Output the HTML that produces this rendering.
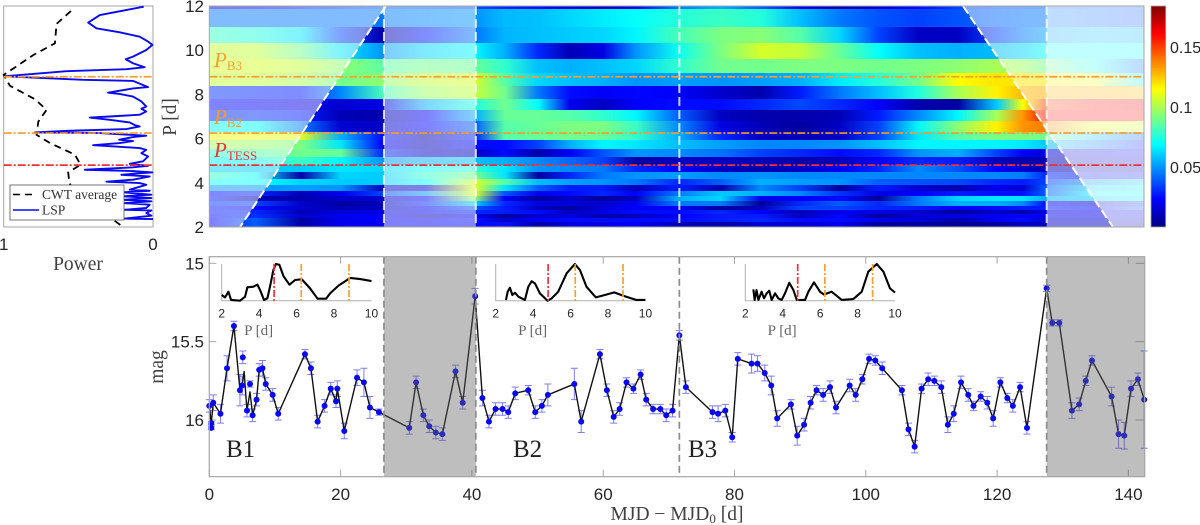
<!DOCTYPE html>
<html lang="en">
<head>
<meta charset="utf-8">
<title>CWT and light curve</title>
<style>
html,body{margin:0;padding:0;background:#fff;width:1200px;height:525px;overflow:hidden}
svg{display:block;filter:blur(.3px)}
.tick{font-family:"Liberation Sans",sans-serif;font-size:17px;fill:#262626}
.itick{font-family:"Liberation Sans",sans-serif;font-size:12px;fill:#262626}
.lab{font-family:"Liberation Serif",serif;font-size:19.5px;fill:#404040}
.ilab{font-family:"Liberation Serif",serif;font-size:15px;fill:#666}
.leg{font-family:"Liberation Serif",serif;font-size:13.5px;fill:#333}
.blk{font-family:"Liberation Serif",serif;font-size:25px;fill:#222}
.ann{font-family:"Liberation Serif",serif;font-size:21px;font-style:italic}
.sub{font-size:13px;font-style:normal}
</style>
</head>
<body>
<svg id="fig" xmlns="http://www.w3.org/2000/svg" width="1200" height="525" viewBox="0 0 1200 525">
  <defs id="defs"></defs>
  <g id="leftPanel"></g>
  <g id="heatPanel"></g>
  <g id="cbarPanel"></g>
  <g id="lcPanel"></g>

  <text class="lab" x="78" y="270" text-anchor="middle">Power</text>
  <text class="lab" transform="translate(176,117) rotate(-90)" text-anchor="middle">P [d]</text>
  <text class="lab" transform="translate(163,367) rotate(-90)" text-anchor="middle">mag</text>
  <text class="lab" x="677" y="520" text-anchor="middle">MJD − MJD<tspan font-size="13" dy="3">0</tspan><tspan dy="-3"> [d]</tspan></text>

  <text class="blk" x="226" y="457">B1</text>
  <text class="blk" x="513" y="457">B2</text>
  <text class="blk" x="688" y="457">B3</text>
</svg>
<script>
// ---------- heatmap data ----------
const heatTimes = [0,7,14,20,26.5,33,40.5,45,50,55,60,65,71.5,78,84,90,96,102,108,114,120,124,127.5,135,142.5];
const heatPeriodEdges = [12,11.86,11.05,10.33,9.6,8.97,8.38,7.79,7.29,6.8,6.3,5.94,5.53,5.17,4.81,4.49,4.17,3.9,3.63,3.4,3.18,2.95,2.77,2.59,2.41,2.23,2];
// wavelet power per row (top to bottom), in units of 0.001
const heatValues = [
[15,20,30,35,40,40,38,30,25,18,12,20,46,55,40,20,10,15,25,35,40,40,40,40,40],
[45,45,45,45,45,48,50,57,58,62,66,70,76,80,76,58,45,38,35,38,42,44,45,42,38],
[80,76,65,35,8,28,45,56,58,60,62,68,82,92,94,85,62,35,12,12,35,45,52,58,55],
[105,105,90,65,50,62,68,55,30,10,18,50,72,92,108,105,88,70,58,55,57,62,68,70,70],
[108,108,105,95,86,90,88,78,58,55,58,62,78,90,90,92,92,90,92,95,100,98,90,72,42],
[105,105,100,90,95,105,108,85,62,58,55,50,52,50,52,55,66,76,90,116,120,120,120,112,65],
[32,30,28,48,82,98,105,90,45,25,22,24,22,14,8,28,45,58,75,100,118,128,130,130,128],
[25,22,18,15,18,55,75,90,70,20,12,22,25,25,30,36,30,22,8,6,60,115,150,160,165],
[30,32,28,10,8,22,55,88,88,85,78,68,40,12,8,8,10,28,48,68,100,135,160,160,160],
[72,70,45,15,12,24,40,85,88,92,92,80,48,18,10,6,12,35,68,95,118,135,140,112,108],
[112,112,110,55,25,8,30,85,88,90,88,78,55,30,12,10,12,35,65,85,92,92,90,58,38],
[100,98,92,65,22,10,25,25,35,55,68,65,58,52,48,48,50,58,68,68,68,66,60,45,28],
[78,85,90,88,30,12,12,25,8,22,38,50,48,44,35,30,25,30,50,55,35,22,16,18,20],
[68,72,80,68,50,55,58,55,48,42,35,6,12,12,10,8,10,22,30,28,10,8,9,12,14],
[62,60,60,65,62,72,78,65,50,48,45,30,22,12,8,12,20,30,48,38,22,14,9,10,12],
[80,70,8,62,60,78,90,65,6,30,45,50,52,48,50,48,48,48,48,48,48,46,30,25,28],
[72,70,62,60,60,70,108,85,58,52,50,45,30,40,55,52,50,40,38,36,30,28,35,50,60],
[50,50,52,50,12,14,110,65,40,28,28,10,28,8,48,35,5,28,15,8,20,15,40,62,66],
[26,30,10,20,35,50,108,38,20,25,30,22,45,60,55,48,32,18,22,28,25,26,40,68,70],
[28,10,8,14,14,25,95,22,5,14,5,12,55,62,20,22,25,5,45,62,65,65,55,60,65],
[32,35,14,6,10,30,60,30,18,16,14,22,45,45,4,30,40,30,45,55,55,48,25,15,35],
[28,25,14,10,12,20,38,28,12,6,16,22,22,6,12,35,35,30,28,22,25,28,28,25,40],
[28,30,10,16,18,20,30,28,25,12,18,25,25,30,22,10,20,18,14,5,14,8,18,20,20],
[25,32,14,20,22,10,22,6,14,18,8,12,22,28,28,12,24,5,16,18,20,22,20,20,20],
[22,40,6,20,22,22,26,14,22,25,25,25,25,28,30,25,25,20,16,8,22,25,14,14,14],
[22,40,8,20,20,22,24,26,6,18,18,22,10,8,15,15,20,4,6,4,5,12,12,12,12]
];
const colorbarTicks = [0.05,0.1,0.15];
const periodTicks = [2,4,6,8,10,12];
const refPeriods = [8.8,6.25,4.8];
const refPeriodNames = ['p-b3','p-b2','p-tess'];
const refPeriodColors = ['#f7a02e','#f59b2c','#e8323c'];
const blockEdges = [26.6,40.6,71.6,127.55];
const coiLeftEdge = [[26.9,12],[4.7,2]];
const coiRightEdge = [[114.8,12],[137.65,2]];

// ---------- left panel data ----------
const lspPeriods = [11.97,11.59,11.25,10.99,10.81,10.61,10.39,10.24,10.01,9.71,9.59,9.41,9.23,9.14,9.05,8.82,8.66,8.61,8.33,8.27,8.08,8.02,7.9,7.68,7.45,7.35,7.23,7.08,7,6.95,6.85,6.73,6.61,6.55,6.43,6.35,6.28,6.25,6.13,6.07,5.95,5.89,5.8,5.7,5.64,5.57,5.49,5.34,5.19,4.97,4.86,4.77,4.7,4.59,4.53,4.47,4.41,4.36,4.29,4.14,4.05,3.99,3.91,3.69,3.64,3.57,3.46,3.39,3.31,3.23,3.16,3.08,3.01,2.86,2.78,2.75,2.63,2.51,2.38,2.36];
const lspPower = [.062,.356,.434,.379,.223,.089,.033,.004,.045,.134,.183,.134,.056,.178,.579,.998,.468,.134,.033,.134,.301,.223,.134,.078,.045,.078,.045,.089,.29,.423,.29,.156,.122,.089,.178,.579,.791,.356,.045,.134,.227,.134,.223,.401,.245,.089,.045,.078,.033,.067,.156,.033,.134,.457,.134,.004,.134,.212,.022,.134,.312,.089,.045,.156,.022,.2,.011,.2,.011,.2,.011,.189,.022,.045,.189,.011,.045,.011,.189,0];
const cwtPeriods = [11.77,11.19,10.31,9.79,8.88,8.39,7.78,7.3,6.77,6.17,5.8,5.27,4.82,4.47,3.99,3.2,2.33,2];
const cwtPower = [.55,.646,.657,.8,1,.958,.79,.713,.768,.78,.69,.523,.485,.568,.56,.49,.267,.2];
const powerTicks = [1,0];

// ---------- light curve data ----------
const lcTimes = [0,.3,.6,1.7,2.7,3.75,4.67,5,5.3,5.74,6.2,6.6,7.2,7.6,8.1,8.6,9.65,10.5,14.57,15.48,16.5,17.56,18.5,19.3,19.5,20.56,22.5,23.55,24.47,25.84,30.46,31.5,32.6,33.5,34.5,35.5,37.5,38.6,40.5,41.6,42.6,43.6,44.67,45.53,46.6,48.58,49.65,50.66,51.57,55.6,56.65,59.5,60.56,61.6,62.5,63.55,64.6,65.7,66.55,67.6,68.7,69.6,70.56,71.6,72.6,76.65,77.5,78.6,79.65,80.5,82.6,83.5,84.6,85.6,86.5,88.6,89.55,90.6,91.6,92.5,93.5,94.55,95.46,97.54,98.46,99.47,100.5,101.45,102.5,105.5,106.5,107.44,108.5,109.5,110.44,111.5,112.5,113.4,114.5,115.6,116.4,117.5,118.5,119.4,120.5,121.55,122.4,123.5,124.55,127.55,128.4,129.47,131.4,132.5,133.5,134.45,137.44,138.5,139.37,140.4,141.45,142.4];
const lcMags = [15.91,16.02,15.89,15.96,15.67,15.4,15.81,15.78,15.69,15.94,15.82,15.97,15.87,15.68,15.67,15.77,15.84,15.96,15.58,15.67,16.01,15.91,15.8,15.88,15.8,16.07,15.73,15.76,15.92,15.95,16.05,15.76,15.97,16.04,16.08,16.09,15.69,15.89,15.21,15.86,16.01,15.93,15.93,15.95,15.83,15.81,15.95,15.91,15.84,15.77,16.01,15.58,15.81,15.98,15.93,15.76,15.8,15.71,15.87,15.93,15.93,15.97,15.94,15.46,15.79,15.95,15.96,15.94,16.11,15.61,15.64,15.64,15.7,15.78,15.99,15.9,16.1,16.03,15.89,15.81,15.84,15.79,15.92,15.78,15.84,15.74,15.61,15.62,15.67,15.81,16.06,16.17,15.8,15.74,15.75,15.79,16.03,15.96,15.76,15.84,15.91,15.85,15.89,15.99,15.76,15.86,15.91,15.79,16.05,15.16,15.38,15.38,15.94,15.9,15.75,15.62,15.85,16.09,16.1,15.8,15.74,15.87];
const lcErrors = [.04,.01,.05,.06,.08,.03,.1,.06,0,.04,0,.04,.04,.04,.05,.04,.04,.04,.03,.04,.04,.04,.04,.04,.05,.05,.05,.09,.07,.02,.04,.04,.04,.04,.04,.04,.04,.04,.05,.05,.04,.04,.04,.04,.04,.03,.04,.04,.07,.1,.07,.03,.04,.04,.04,.03,.03,.03,.04,.03,.03,.04,.04,.03,.04,.04,.05,.04,.03,.04,.06,.05,.05,.06,.05,.03,.06,.04,.04,.03,.04,.04,.04,.04,.04,.03,.03,.03,.04,.03,.04,.04,.03,.04,.03,.04,.05,.05,.04,.04,.03,.03,.04,.05,.03,.03,.04,.03,.04,.02,.02,.02,.05,.04,.03,.03,.06,.09,.085,.05,.04,.31];
const extraTimes = [.3,5.1,6.2];
const extraMags = [16.05,15.6,15.77];
const extraErrors = [.01,.04,.02];
const timeTicks = [0,20,40,60,80,100,120,140];
const magTicks = [15,15.5,16];
const shadedBlocks = [[26.6,40.6],[127.55,142.5]];

// ---------- inset periodograms ----------
const insetTicks = [2,4,6,8,10];
const inset1P = [2,2.18,2.36,2.5,2.98,3.25,3.37,3.69,3.91,4.05,4.26,4.44,4.58,4.76,4.89,5.08,5.3,5.62,5.92,6.28,6.72,7.12,7.58,7.79,8.24,8.86,9.4,10];
const inset1V = [.155,.09,.245,.02,0,.11,.364,.382,.436,.29,.02,.064,.382,.836,1,.98,.67,.436,.564,.582,.336,.055,.055,.2,.41,.62,.59,.536];
const inset2P = [2.55,2.64,2.76,2.89,3.03,3.21,3.56,3.74,3.92,4.1,4.36,4.77,4.99,5.34,5.79,6.23,6.5,6.85,7.35,7.83,8.33,8.81,9.52,10];
const inset2V = [.02,.245,.355,.155,.218,.11,.02,.38,.53,.47,.2,0,.064,.245,.745,1,.836,.38,.09,.155,.227,.136,.02,.02];
const inset3P = [2.43,2.5,2.6,2.7,2.87,3,3.14,3.28,3.41,3.59,3.76,3.94,4.12,4.35,4.57,4.75,5.19,5.37,5.67,5.99,6.2,6.61,7.15,7.77,8.22,8.57,9.02,9.38,9.73,10];
const inset3V = [.31,.02,.29,.02,.245,.064,.2,.27,.02,.2,.064,.02,.2,.49,.29,.02,.02,.245,.5,.245,.17,.245,.02,.045,.245,.79,1,.79,.336,.22];

// ---------- helpers ----------
const NS = 'http://www.w3.org/2000/svg';
function mk(tag, attrs, parent, txt){
  const e = document.createElementNS(NS, tag);
  for (const k in attrs) e.setAttribute(k, attrs[k]);
  if (txt !== undefined) e.textContent = txt;
  parent.appendChild(e);
  return e;
}
const HX0 = 209.3, HX1 = 1144, HY0 = 6, HY1 = 227;
const tx = t => 209.3 + t * 6.565;
const py = p => 6 + (12 - p) * 22.1;
const my = m => 263.3 + (m - 15) * 156.7;
const powx = v => 153 - v * 149.3;
const clamp = v => Math.max(0, Math.min(1, v));
function jet(v){
  const t = v / 185;
  const r = clamp(1.5 - Math.abs(4 * t - 3));
  const g = clamp(1.5 - Math.abs(4 * t - 2));
  const b = clamp(1.5 - Math.abs(4 * t - 1));
  return 'rgb(' + Math.round(r * 255) + ',' + Math.round(g * 255) + ',' + Math.round(b * 255) + ')';
}
const defs = document.getElementById('defs');
const heat = document.getElementById('heatPanel');
const left = document.getElementById('leftPanel');
const cbar = document.getElementById('cbarPanel');
const lc = document.getElementById('lcPanel');
const FRAME = '#a6a6a6';

// ---------- heatmap ----------
heatValues.forEach((row, r) => {
  const y0 = Math.round(py(heatPeriodEdges[r]));
  const y1 = Math.round(py(heatPeriodEdges[r + 1]));
  for (let c = 0; c < heatTimes.length - 1; c++) {
    const x0 = Math.round(tx(heatTimes[c]));
    const x1 = Math.min(HX1, Math.round(tx(heatTimes[c + 1])));
    const id = 'h' + r + '_' + c;
    const g = mk('linearGradient', {id: id}, defs);
    mk('stop', {offset: 0, 'stop-color': jet(row[c])}, g);
    mk('stop', {offset: 1, 'stop-color': jet(row[c + 1])}, g);
    const cell = mk('rect', {x: x0, y: y0, width: x1 - x0, height: y1 - y0, fill: 'url(#' + id + ')', 'shape-rendering': 'crispEdges'}, heat);
    
    
  }
});

// cone of influence overlays
const coiL = mk('polygon', {points: [[tx(0), py(12)], [tx(coiLeftEdge[0][0]), py(coiLeftEdge[0][1])], [tx(coiLeftEdge[1][0]), py(coiLeftEdge[1][1])], [tx(0), py(2)]].map(p => p.join(',')).join(' '), fill: '#fff', 'fill-opacity': .5}, heat);


const coiR = mk('polygon', {points: [[tx(coiRightEdge[0][0]), py(12)], [HX1, py(12)], [HX1, py(2)], [tx(coiRightEdge[1][0]), py(2)]].map(p => p.join(',')).join(' '), fill: '#fff', 'fill-opacity': .5}, heat);


shadedBlocks.forEach(b => {
  const o = mk('rect', {x: tx(b[0]), y: HY0, width: (b[1] === 142.5 ? HX1 : tx(b[1])) - tx(b[0]), height: HY1 - HY0, fill: '#fff', 'fill-opacity': .5}, heat);
  
  
});
blockEdges.forEach(t => {
  const l = mk('line', {x1: tx(t), x2: tx(t), y1: HY0, y2: HY1, stroke: '#fff', 'stroke-opacity': .8, 'stroke-width': 2, 'stroke-dasharray': '9 4'}, heat);
  
  
});
[coiLeftEdge, coiRightEdge].forEach(e => {
  const l = mk('line', {x1: tx(e[0][0]), y1: py(e[0][1]), x2: tx(e[1][0]), y2: py(e[1][1]), stroke: '#fff', 'stroke-width': 2, 'stroke-dasharray': '9 4'}, heat);
  
  
});
refPeriods.forEach((p, i) => {
  const l = mk('line', {x1: HX0, x2: HX1, y1: py(p), y2: py(p), stroke: refPeriodColors[i], 'stroke-width': 1.7, 'stroke-dasharray': '8 2 2 2'}, heat);
  
  
});
const hFrame = mk('rect', {x: HX0, y: HY0, width: HX1 - HX0, height: HY1 - HY0, fill: 'none', stroke: FRAME, 'stroke-width': 1}, heat);


periodTicks.forEach(p => {
  const t = mk('text', {class: 'tick', x: 204, y: py(p) + 6, 'text-anchor': 'end'}, heat, p);
  
  
});

// period annotations
const annY = [67, 124, 157];
const annSub = ['B3', 'B2', 'TESS'];
annSub.forEach((s, i) => {
  const t = mk('text', {class: 'ann', x: 214, y: annY[i], fill: refPeriodColors[i]}, heat, 'P');
  mk('tspan', {class: 'sub', dy: 3}, t, s);
  
  
});

// ---------- colorbar ----------
const cbGrad = mk('linearGradient', {id: 'cbGrad', x1: 0, x2: 0, y1: 1, y2: 0}, defs);
for (let i = 0; i <= 16; i++) {
  mk('stop', {offset: i / 16, 'stop-color': jet(i / 16 * 185)}, cbGrad);
}
const cbRect = mk('rect', {x: 1151, y: 6, width: 14.7, height: 221, fill: 'url(#cbGrad)', stroke: FRAME, 'stroke-width': .8}, cbar);


colorbarTicks.forEach(v => {
  const y = 227 - v / 0.1842 * 221;
  const t = mk('text', {class: 'tick', x: 1170, y: y + 6, style: 'font-size:16px'}, cbar, v);
  
  
});

// ---------- left panel ----------
const lFrame = mk('rect', {x: 3.7, y: HY0, width: 149.3, height: HY1 - HY0, fill: '#fff', stroke: FRAME, 'stroke-width': 1}, left);


const lsp = mk('polyline', {points: lspPeriods.map((p, i) => powx(lspPower[i]) + ',' + py(p)).join(' '), fill: 'none', stroke: '#0a0af0', 'stroke-width': 1.9, 'stroke-linejoin': 'round'}, left);


const cwt = mk('polyline', {points: cwtPeriods.map((p, i) => powx(cwtPower[i]) + ',' + py(p)).join(' '), fill: 'none', stroke: '#000', 'stroke-width': 1.8, 'stroke-dasharray': '7 5'}, left);


refPeriods.forEach((p, i) => {
  const l = mk('line', {x1: 3.7, x2: 153, y1: py(p), y2: py(p), stroke: refPeriodColors[i], 'stroke-width': 1.7, 'stroke-dasharray': '8 2 2 2'}, left);
  
  
});
powerTicks.forEach(v => {
  const t = mk('text', {class: 'tick', x: powx(v), y: 250, 'text-anchor': 'middle'}, left, v);
  
  
});
const legBox = mk('rect', {x: 10, y: 185, width: 114, height: 35, fill: '#fff', stroke: '#555', 'stroke-width': .8}, left);


const legL1 = mk('line', {x1: 13, x2: 35, y1: 194.5, y2: 194.5, stroke: '#000', 'stroke-width': 1.6, 'stroke-dasharray': '7 5'}, left);


const legL2 = mk('line', {x1: 13, x2: 39, y1: 210, y2: 210, stroke: '#0a0af0', 'stroke-width': 1.6}, left);


const legT1 = mk('text', {class: 'leg', x: 42, y: 199}, left, 'CWT average');


const legT2 = mk('text', {class: 'leg', x: 42, y: 214.5}, left, 'LSP');



// ---------- light curve ----------
const LX0 = 209.3, LX1 = 1144.7, LY0 = 256.7, LY1 = 476.7;
const lcBg = mk('rect', {x: LX0, y: LY0, width: LX1 - LX0, height: LY1 - LY0, fill: '#fff'}, lc);


timeTicks.forEach(t => {
  const a = mk('line', {x1: tx(t), x2: tx(t), y1: LY1, y2: LY1 - 7, stroke: FRAME, 'stroke-width': 1}, lc);
  
  
  const b = mk('line', {x1: tx(t), x2: tx(t), y1: LY0, y2: LY0 + 7, stroke: FRAME, 'stroke-width': 1}, lc);
  
  
  const l = mk('text', {class: 'tick', x: tx(t), y: 500, 'text-anchor': 'middle'}, lc, t);
  
  
});
magTicks.forEach(m => {
  const a = mk('line', {x1: LX0, x2: LX0 + 7, y1: my(m), y2: my(m), stroke: FRAME, 'stroke-width': 1}, lc);
  
  
  const b = mk('line', {x1: LX1, x2: LX1 - 9, y1: my(m), y2: my(m), stroke: FRAME, 'stroke-width': 1}, lc);
  
  
  const l = mk('text', {class: 'tick', x: 204, y: my(m) + 6, 'text-anchor': 'end'}, lc, m);
  
  
});
function errBar(t, m, e){
  if (!e) return;
  const x = tx(t), y0 = my(m - e), y1 = my(m + e);
  const p = mk('path', {d: 'M' + x + ' ' + y0 + 'V' + y1 + 'M' + (x - 3.5) + ' ' + y0 + 'H' + (x + 3.5) + 'M' + (x - 3.5) + ' ' + y1 + 'H' + (x + 3.5), fill: 'none', stroke: '#7d7df5', 'stroke-width': 1}, lc);
  
  
}
lcTimes.forEach((t, i) => errBar(t, lcMags[i], lcErrors[i]));
extraTimes.forEach((t, i) => errBar(t, extraMags[i], extraErrors[i]));
const lcLine = mk('polyline', {points: lcTimes.map((t, i) => tx(t) + ',' + my(lcMags[i])).join(' '), fill: 'none', stroke: '#111', 'stroke-width': 1.4, 'stroke-linejoin': 'round'}, lc);


lcTimes.forEach((t, i) => {
  if (lcErrors[i] === 0) return;
  const c = mk('circle', {cx: tx(t), cy: my(lcMags[i]), r: 3, fill: '#0808f0'}, lc);
  
  
});
extraTimes.forEach((t, i) => {
  const c = mk('circle', {cx: tx(t), cy: my(extraMags[i]), r: 3, fill: '#0808f0'}, lc);
  
  
});
shadedBlocks.forEach(b => {
  const s = mk('rect', {x: tx(b[0]), y: LY0, width: (b[1] === 142.5 ? LX1 : tx(b[1])) - tx(b[0]), height: LY1 - LY0, fill: 'rgba(100,100,100,.42)'}, lc);
  
  
});
blockEdges.forEach(t => {
  const l = mk('line', {x1: tx(t), x2: tx(t), y1: LY0, y2: LY1, stroke: '#8c8c8c', 'stroke-width': 1.7, 'stroke-dasharray': '7 4'}, lc);
  
  
});
const lcFrame = mk('rect', {x: LX0, y: LY0, width: LX1 - LX0, height: LY1 - LY0, fill: 'none', stroke: FRAME, 'stroke-width': 1.2}, lc);



// ---------- insets ----------
const insetLefts = [221.7, 495.7, 745.3];
const insetPs = [inset1P, inset2P, inset3P];
const insetVs = [inset1V, inset2V, inset3V];
const IW = 18.72, IY0 = 264, IY1 = 300.7;
insetLefts.forEach((x0, k) => {
  const ix = p => x0 + (p - 2) * IW;
  const iy = v => IY1 - v * (IY1 - IY0);
  const g = mk('g', {}, lc);
  
  
  const ax = mk('path', {d: 'M' + x0 + ' ' + IY0 + 'V' + IY1 + 'H' + ix(10), fill: 'none', stroke: '#b0b0b0', 'stroke-width': 1}, g);
  
  
  insetTicks.forEach(t => {
    const l = mk('text', {class: 'itick', x: ix(t), y: 317.5, 'text-anchor': 'middle'}, g, t);
    
    
  });
  const title = mk('text', {class: 'ilab', x: ix(3.97), y: 335, 'text-anchor': 'middle'}, g, 'P [d]');
  
  
  const curve = mk('polyline', {points: insetPs[k].map((p, i) => ix(p) + ',' + iy(insetVs[k][i])).join(' '), fill: 'none', stroke: '#000', 'stroke-width': 2.1, 'stroke-linejoin': 'round'}, g);
  
  
  refPeriods.forEach((p, i) => {
    const v = mk('line', {x1: ix(p), x2: ix(p), y1: IY0, y2: IY1, stroke: i === 2 ? '#f0303c' : '#f8a030', 'stroke-width': 1.7, 'stroke-dasharray': '7 2 2 2'}, g);
    
    
  });
});
</script>
</body>
</html>
